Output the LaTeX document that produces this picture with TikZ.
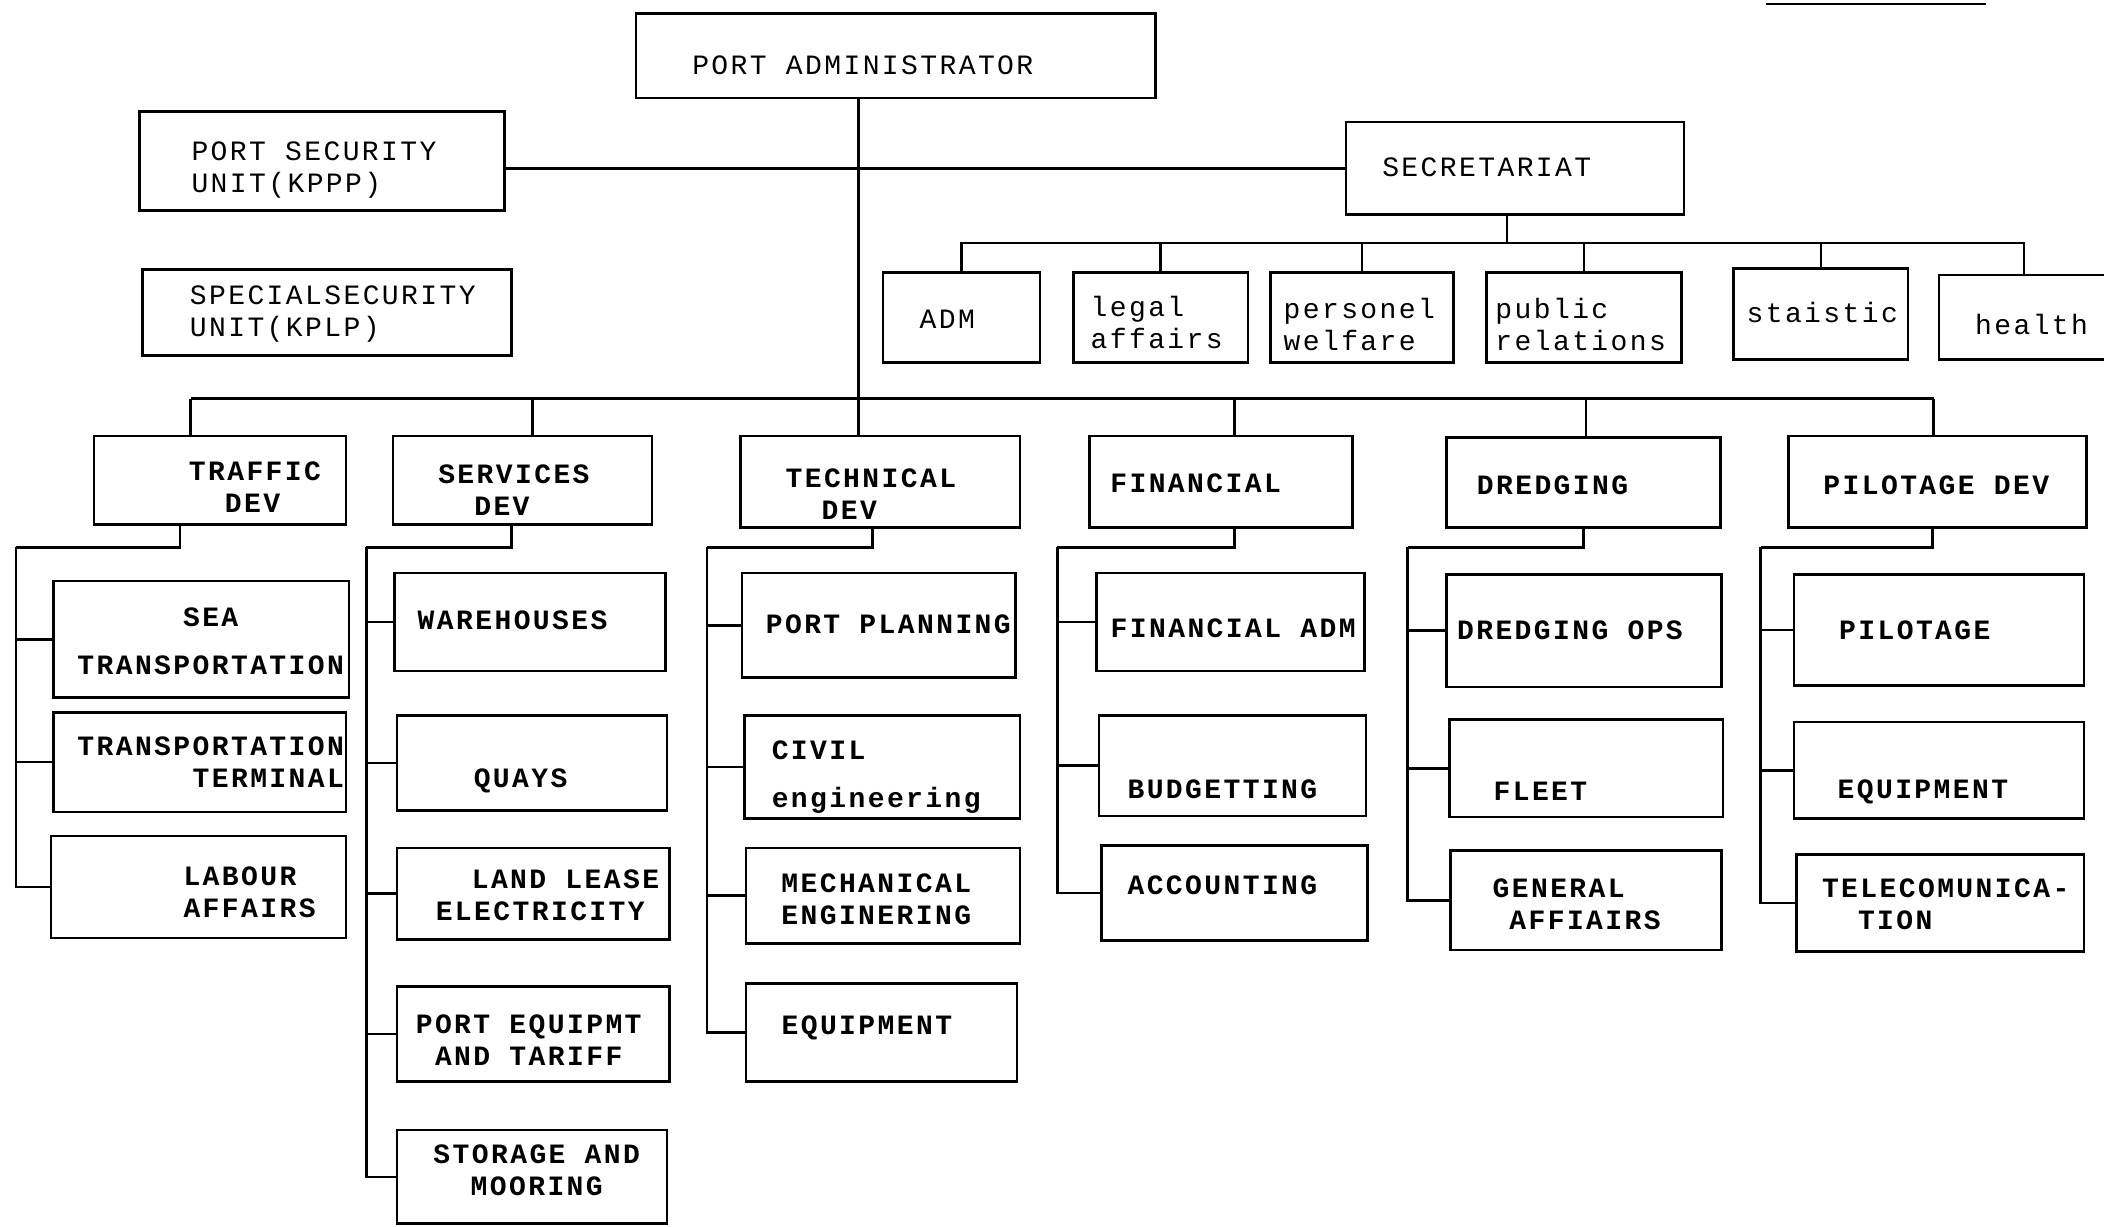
\documentclass[tikz,border=0pt]{standalone}
\usepackage{fontspec}
\newfontfamily\typewr[LetterSpace=8.6]{Liberation Mono}
\usetikzlibrary{fit}
\tikzstyle{unit} = [rectangle, draw=black, line width=1.3pt, inner sep=0pt]
\tikzstyle{utext} = [inner sep=0pt, align=left, font=\typewr\fontsize{14}{16}\selectfont]
\tikzstyle{dtext} = [utext, font=\typewr\bfseries\fontsize{14}{16}\selectfont]
\tikzstyle{line} = [line width=1.3pt]
\begin{document}
\begin{tikzpicture}[x=0.6709pt,y=-0.6709pt]
	\useasboundingbox (0,0) rectangle (1568,914);
	% top level
	\node[unit, fit={(474,10)(861,73)}] (adm) {};
	\node[utext] (adm_t) at (643,49) {PORT ADMINISTRATOR};
	\node[unit, fit={(104,83)(376,157)}] (psu) {};
	\node[utext] (psu_t) at (234,127) {PORT SECURITY\\UNIT(KPPP)};
	\node[unit, fit={(1003,91)(1255,160)}] (sec) {};
	\node[utext] (sec_t) at (1108,125) {SECRETARIAT};
	\node[unit, fit={(106,201)(381,265)}] (ssu) {};
	\node[utext] (ssu_t) at (248,234) {SPECIALSECURITY\\UNIT(KPLP)};
	% secretariat
	\node[unit, fit={(658,203)(775,270)}] (s_1) {};
	\node[utext] (s_1t) at (706,238) {ADM};
	\node[unit, fit={(800,203)(930,270)}] (s_2) {};
	\node[utext] (s_2t) at (862,240) {legal\\affairs};
	\node[unit, fit={(947,203)(1083,270)}] (s_3) {};
	\node[utext] (s_3t) at (1013,242) {personel\\welfare};
	\node[unit, fit={(1108,203)(1253,270)}] (s_4) {};
	\node[utext] (s_4t) at (1178,242) {public\\relations};
	\node[unit, fit={(1292,200)(1422,268)}] (s_5) {};
	\node[utext] (s_5t) at (1358,233) {staistic};
	\node[unit, fit={(1445,205)(1572,268)}] (s_6) {};
	\node[utext] (s_6t) at (1514,242) {health};
	% divisions
	\node[unit, fit={(70,325)(258,391)}] (trf) {};
	\node[dtext] (trf_t) at (190,363) {TRAFFIC\\\phantom{XX}DEV};
	\node[unit, fit={(293,325)(486,391)}] (srv) {};
	\node[dtext] (srv_t) at (383,365) {SERVICES\\\phantom{XX}DEV};
	\node[unit, fit={(552,325)(760,393)}] (tec) {};
	\node[dtext] (tec_t) at (649,368) {TECHNICAL\\\phantom{XX}DEV};
	\node[unit, fit={(812,325)(1008,393)}] (fin) {};
	\node[dtext] (fin_t) at (891,360) {FINANCIAL};
	\node[unit, fit={(1078,326)(1282,393)}] (drd) {};
	\node[dtext] (drd_t) at (1157,362) {DREDGING};
	\node[unit, fit={(1333,325)(1555,393)}] (plt) {};
	\node[dtext] (plt_t) at (1443,362) {PILOTAGE DEV};
	% traffic
	\node[unit, fit={(40,433)(260,520)}] (trf_1) {};
	\node[dtext, align=center] (trf_1t) at (157,478) {SEA\\[8pt]TRANSPORTATION};
	\node[unit, fit={(40,531)(258,605)}] (trf_2) {};
	\node[dtext, align=right] (trf_2t) at (157,568) {TRANSPORTATION\\TERMINAL};
	\node[unit, fit={(38,623)(258,699)}] (trf_3) {};
	\node[dtext] (trf_3t) at (186,665) {LABOUR\\AFFAIRS};
	% services
	\node[unit, fit={(294,427)(496,500)}] (srv_1) {};
	\node[dtext] (srv_1t) at (382,462) {WAREHOUSES};
	\node[unit, fit={(296,533)(497,604)}] (srv_2) {};
	\node[dtext] (srv_2t) at (388,582) {QUAYS};
	\node[unit, fit={(296,632)(499,700)}] (srv_3) {};
	\node[dtext] (srv_3t) at (408,667) {\phantom{XX}LAND LEASE\\ELECTRICITY};
	\node[unit, fit={(296,735)(499,806)}] (srv_4) {};
	\node[dtext, align=center] (srv_4t) at (394,775) {PORT EQUIPMT\\AND TARIFF};
	\node[unit, fit={(296,842)(497,912)}] (srv_5) {};
	\node[dtext, align=center] (srv_5t) at (400,872) {STORAGE AND\\MOORING};
	% technical
	\node[unit, fit={(553,427)(757,505)}] (tec_1) {};
	\node[dtext] (tec_1t) at (662,465) {PORT PLANNING};
	\node[unit, fit={(555,533)(760,610)}] (tec_2) {};
	\node[dtext] (tec_2t) at (653,579) {CIVIL\\[8pt]engineering};
	\node[unit, fit={(556,632)(760,703)}] (tec_3) {};
	\node[dtext] (tec_3t) at (653,670) {MECHANICAL\\ENGINERING};
	\node[unit, fit={(556,733)(758,806)}] (tec_4) {};
	\node[dtext] (tec_4t) at (646,766) {EQUIPMENT};
	% financial
	\node[unit, fit={(817,427)(1017,500)}] (fin_1) {};
	\node[dtext] (fin_1t) at (919,468) {FINANCIAL ADM};
	\node[unit, fit={(819,533)(1018,608)}] (fin_2) {};
	\node[dtext] (fin_2t) at (911,588) {BUDGETTING};
	\node[unit, fit={(821,630)(1019,701)}] (fin_3) {};
	\node[dtext] (fin_3t) at (911,660) {ACCOUNTING};
	% dredging
	\node[unit, fit={(1078,428)(1283,512)}] (drd_1) {};
	\node[dtext] (drd_1t) at (1170,470) {DREDGING OPS};
	\node[unit, fit={(1080,536)(1284,609)}] (drd_2) {};
	\node[dtext] (drd_2t) at (1148,590) {FLEET};
	\node[unit, fit={(1081,634)(1283,708)}] (drd_3) {};
	\node[dtext] (drd_3t) at (1175,674) {GENERAL\\\phantom{X}AFFIAIRS};
	% pilotage
	\node[unit, fit={(1337,428)(1553,511)}] (plt_1) {};
	\node[dtext] (plt_1t) at (1427,470) {PILOTAGE};
	\node[unit, fit={(1337,538)(1553,610)}] (plt_2) {};
	\node[dtext] (plt_2t) at (1433,590) {EQUIPMENT};
	\node[unit, fit={(1339,637)(1553,709)}] (plt_3) {};
	\node[dtext] (plt_3t) at (1450,674) {TELECOMUNICA-\\\phantom{XX}TION};
	% lines
	\coordinate (adm_drop) at (640,0);
	\draw[line] (adm.south -| adm_drop) -- (tec.north -| adm_drop);
	\draw[line] (sec.west -| psu.east) -- (sec.west);
	\coordinate (sec_bus) at (1123,181);
	\draw[line] (sec.south -| sec_bus) -- (sec_bus);
	\foreach \k in {1,...,6} \draw[line] (sec_bus) -| (s_\k.north);
	\coordinate (bus_l) at (142,297);
	\coordinate (bus_r) at (1441,297);
	\draw[line] (bus_l) -- (bus_r);
	\foreach \n/\x in {trf/142, srv/397, fin/920, drd/1182, plt/1441}
		{\coordinate (\n_top) at (\x,297); \draw[line] (\n_top) -- (\n_top |- \n.north);}
	\foreach \n/\d/\v/\m in {trf/134/12/3, srv/381/273/5, tec/650/527/4, fin/920/788/3, drd/1180/1049/3, plt/1440/1312/3}
		{
		\coordinate (\n_sub) at (\d,408);
		\coordinate (\n_spine) at (\v,408);
		\draw[line] (\n_sub |- \n.south) -- (\n_sub) -- (\n_spine);
		\foreach \k in {1,...,\m} \draw[line] (\n_spine) |- (\n_\k.west);
		}
	\draw[line] (1316,3) -- (1480,3);
\end{tikzpicture}
\end{document}
